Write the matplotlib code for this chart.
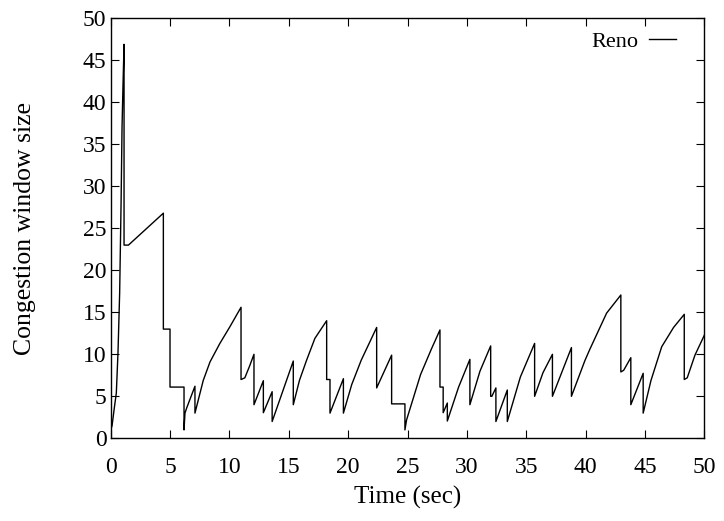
import matplotlib
matplotlib.use("Agg")
import matplotlib.pyplot as plt

time_sec = [0.0, 0.12, 0.3, 0.48, 0.62, 0.76, 0.88, 0.96, 1.04, 1.13,
            1.13, 1.5, 4.44,
            4.44, 5.0, 5.0, 6.18, 6.18, 6.26, 6.4, 7.1,
            7.1, 7.8, 8.37, 9.2, 10.05, 10.98,
            10.98, 11.3, 11.7, 12.07,
            12.07, 12.86,
            12.86, 13.6,
            13.6, 15.38,
            15.38, 15.9, 16.5, 17.2, 18.19,
            18.19, 18.47, 18.47, 19.6,
            19.6, 20.3, 21.1, 22.4,
            22.4, 23.66,
            23.66, 24.78, 24.78, 24.92, 26.1, 27.0, 27.73,
            27.73, 28.0, 28.0, 28.35,
            28.35, 29.3, 30.25,
            30.25, 31.1, 32.0,
            32.0, 32.1, 32.44,
            32.44, 33.4,
            33.4, 34.5, 35.7,
            35.7, 36.4, 37.2,
            37.2, 38.8,
            38.8, 39.93, 40.35, 41.76, 42.96,
            42.96, 43.2, 43.8,
            43.8, 44.84,
            44.84, 45.5, 46.4, 47.4, 48.3,
            48.3, 48.55, 49.2, 50.0]
cwnd = [1.0, 1.5, 3.5, 5.4, 10.2, 17.3, 28.0, 37.0, 41.9, 46.9,
        23.0, 23.0, 26.8,
        13.0, 13.0, 6.1, 6.1, 1.0, 3.0, 3.6, 6.2,
        3.0, 6.9, 9.1, 11.3, 13.3, 15.6,
        7.0, 7.2, 8.6, 10.0,
        4.0, 6.86,
        3.05, 5.55,
        2.0, 9.2,
        4.0, 6.9, 9.3, 11.9, 14.0,
        7.0, 7.0, 3.0, 7.1,
        3.0, 6.4, 9.3, 13.2,
        6.0, 9.9,
        4.1, 4.1, 1.0, 2.2, 7.6, 10.6, 12.9,
        6.1, 6.1, 3.05, 4.2,
        2.06, 6.1, 9.4,
        4.0, 8.0, 11.0,
        5.0, 5.0, 6.0,
        2.0, 5.75,
        2.0, 7.3, 11.3,
        5.0, 7.8, 10.0,
        5.0, 10.8,
        5.0, 9.24, 10.6, 14.9, 17.06,
        7.9, 8.1, 9.6,
        4.0, 7.74,
        3.0, 6.9, 10.9, 13.2, 14.76,
        7.0, 7.2, 9.9, 12.3]

xticks = [0, 5, 10, 15, 20, 25, 30, 35, 40, 45, 50]
yticks = [0, 5, 10, 15, 20, 25, 30, 35, 40, 45, 50]

plt.rcParams['font.family'] = ['Liberation Serif', 'DejaVu Serif']

fig = plt.figure(figsize=(7.24, 5.21), dpi=100)
ax = fig.add_axes([0.1528, 0.1587, 0.973 - 0.1528, 0.9649 - 0.1587])
ax.plot(time_sec, cwnd, color='black', lw=1.0, label='Reno')
ax.set_xlim(0, 50)
ax.set_ylim(0, 50)
ax.set_xticks(xticks)
ax.set_yticks(yticks)
ax.tick_params(direction='in', length=6, width=0.8, top=True, right=True,
               labelsize=17)
ax.tick_params(axis='x', pad=13.5)
ax.tick_params(axis='y', pad=3)
for s in ax.spines.values():
    s.set_linewidth(1.0)
ax.set_xlabel('Time (sec)', fontsize=18)
ax.set_ylabel('Congestion window size', fontsize=18.5)
ax.xaxis.set_label_coords((407.5 - 110.6) / 593.9, (438.3 - 497) / 420)
ax.xaxis.label.set_va('center')
ax.yaxis.set_label_coords((25 - 110.6) / 593.9, (438.3 - 228) / 420)
ax.yaxis.label.set_va('center')
leg = ax.legend(loc='upper right', frameon=False, fontsize=16, markerfirst=False,
                handlelength=1.25, borderaxespad=0, borderpad=0, handletextpad=0.45,
                bbox_to_anchor=((676.5 - 110.6) / 593.9, (438.3 - 31) / 420))
fig.savefig('out.png', dpi=100)
